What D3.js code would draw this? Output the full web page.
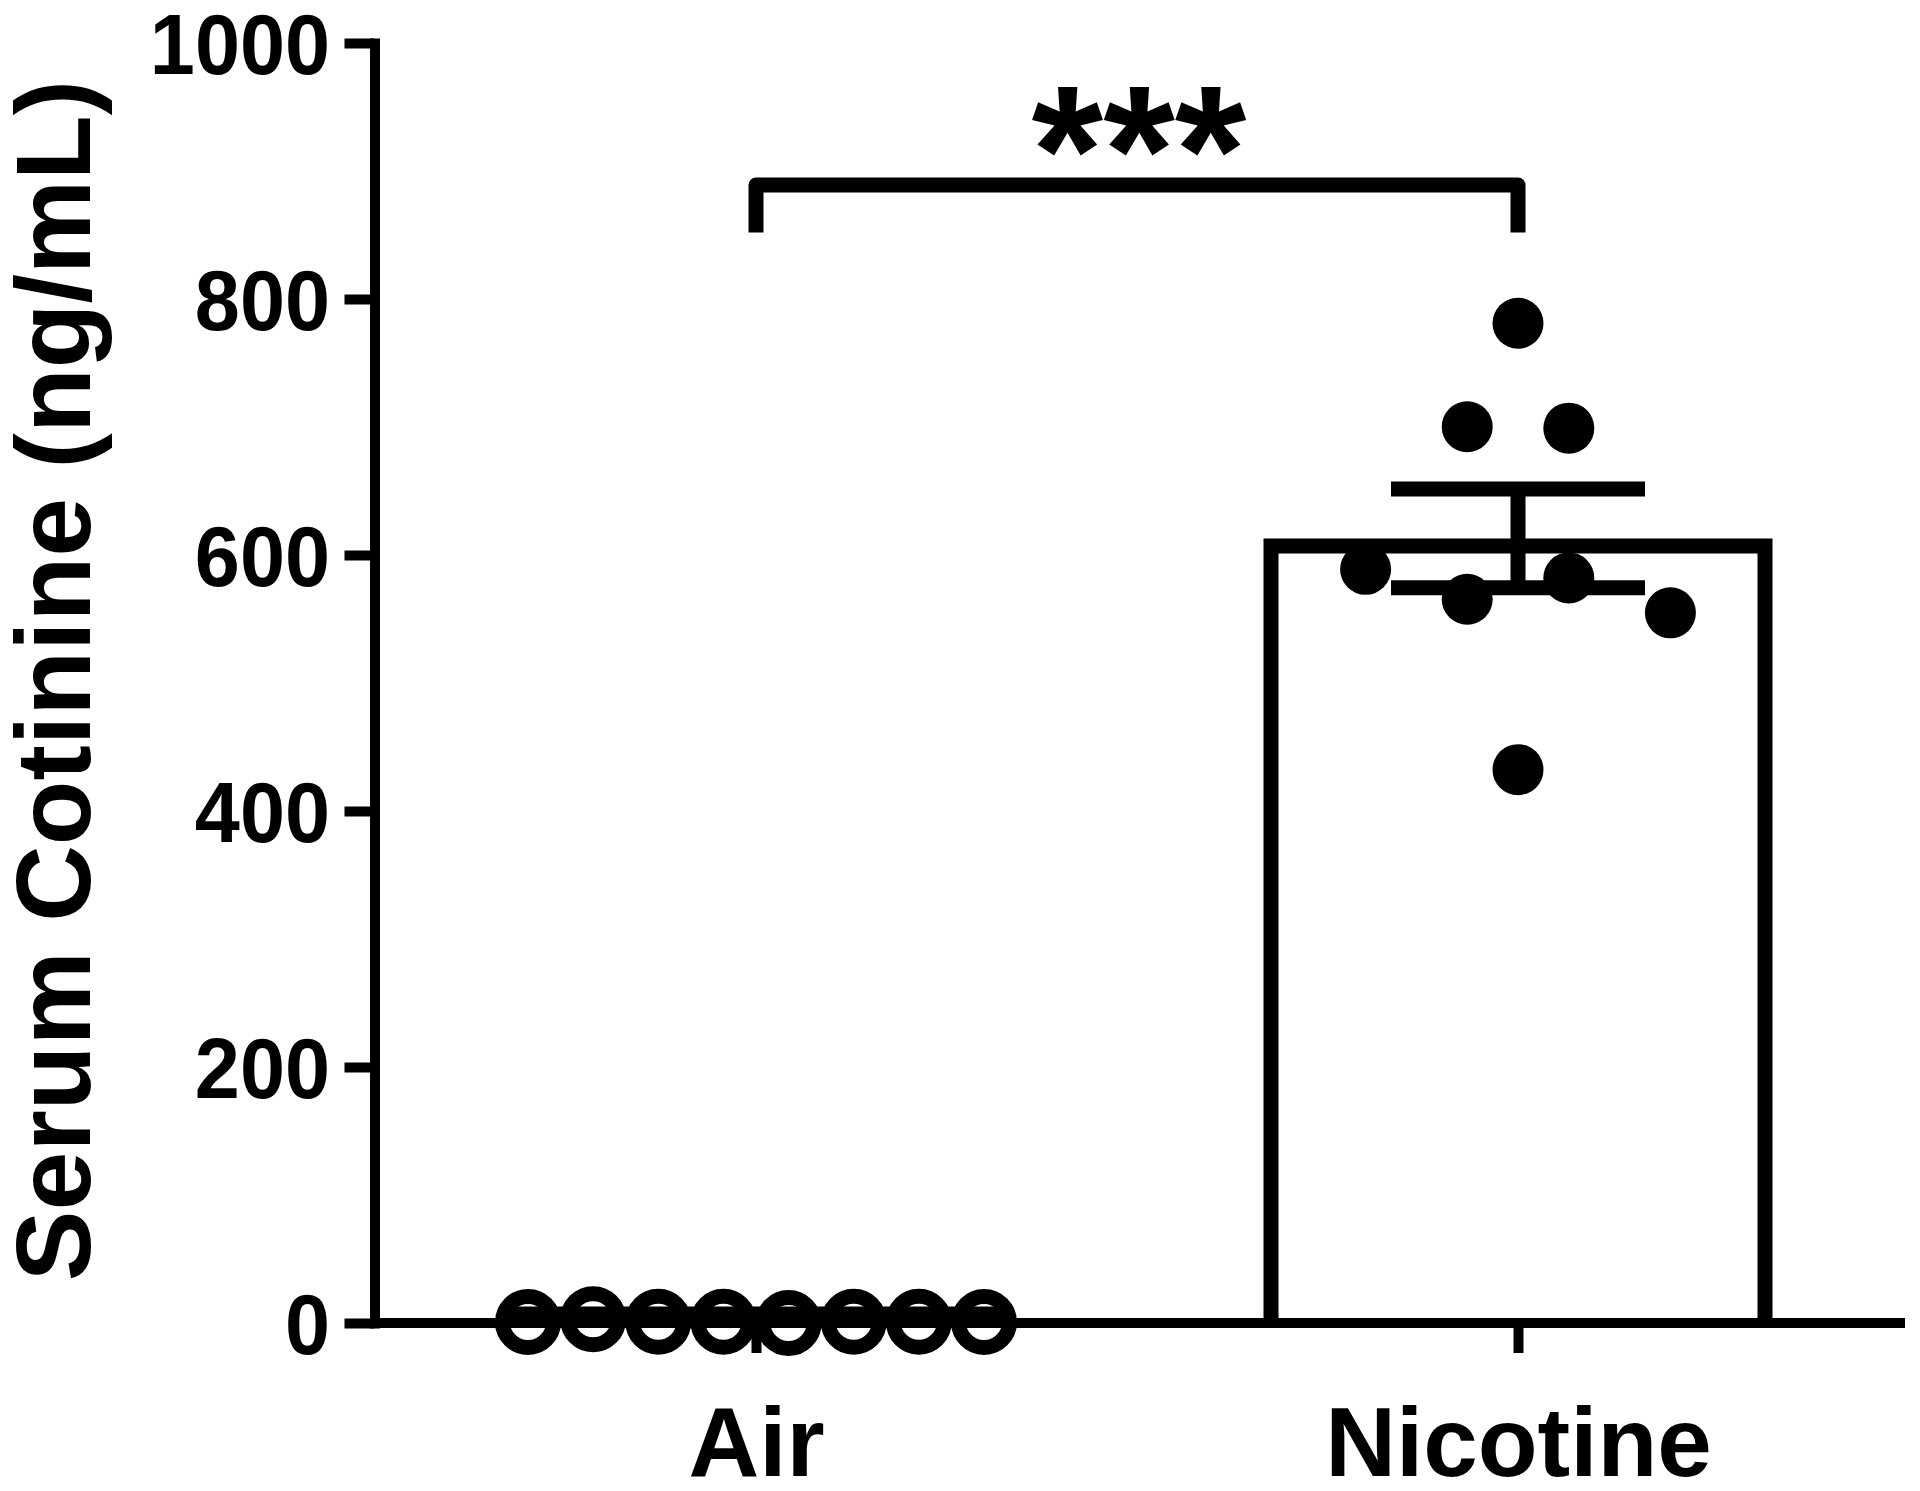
<!DOCTYPE html>
<html>
<head>
<meta charset="utf-8">
<script src="https://cdn.jsdelivr.net/npm/d3@7"></script>
<style>
  body { margin: 0; background: #ffffff; }
  svg { display: block; }
  text { font-family: "Liberation Sans", Arial, sans-serif; font-weight: bold; fill: #000; }
</style>
</head>
<body>
<div id="chart"></div>
<script>
// data
const GROUPS = ["Air", "Nicotine"];
const AIR_VALUES = [0.8, 3.0, 1.0, 1.0, 0.0, 1.0, 1.0, 0.8];
const NICOTINE_VALUES = [781.1, 700.2, 699.1, 588.8, 565.4, 582.1, 554.8, 432.3];
const Y_TICKS = [0, 200, 400, 600, 800, 1000];
const Y_LABEL = "Serum Cotinine (ng/mL)";
const SIG_LABEL = "***";

// frame constants
const FRAME_WIDTH = 1920;
const FRAME_HEIGHT = 1491;
const STROKE = 15;
const AXIS_STROKE = 10;
const BAR_WIDTH = 509;
const CAP_WIDTH = 254;
const DOT_R = 25.5;
const SPREAD = 456;     // widest spread of one row of dots
const MAX_STEP = 101.6; // widest gap between dots in one row
const ROW_GAP = 40;     // values closer than this share a row

const FRAME = d3.select("#chart")
                .append("svg")
                  .attr("width", FRAME_WIDTH)
                  .attr("height", FRAME_HEIGHT);

const X_SCALE = d3.scalePoint()
                  .domain(GROUPS)
                  .range([375, 1899])
                  .padding(0.5);

const Y_SCALE = d3.scaleLinear()
                  .domain([0, 1000])
                  .range([1323, 43]);

const data = [
  {group: "Air", values: AIR_VALUES, filled: false},
  {group: "Nicotine", values: NICOTINE_VALUES, filled: true}
];

data.forEach(d => {
  d.mean = d3.mean(d.values);
  d.sem = d3.deviation(d.values) / Math.sqrt(d.values.length);
});

// bars (outline only, border drawn inside the bar)
FRAME.selectAll(".bar")
  .data(data)
  .enter().append("path")
    .attr("class", "bar")
    .attr("fill", "none")
    .attr("stroke", "#000")
    .attr("stroke-width", STROKE)
    .attr("d", d => {
      let x0 = X_SCALE(d.group) - BAR_WIDTH / 2 + STROKE / 2;
      let x1 = X_SCALE(d.group) + BAR_WIDTH / 2 - STROKE / 2;
      let base = Y_SCALE(0);
      let top = Y_SCALE(d.mean);
      // very short bars get their border on top of the value
      let edge = (base - top > 2 * STROKE) ? top + STROKE / 2 : top - STROKE / 2;
      return "M" + x0 + "," + base + "V" + edge + "H" + x1 + "V" + base;
    });

// y axis
const Y_AXIS = FRAME.append("g")
  .attr("transform", "translate(374.5,0)")
  .call(d3.axisLeft(Y_SCALE)
          .tickValues(Y_TICKS)
          .tickFormat(d3.format("d"))
          .tickSize(30)
          .tickSizeOuter(0)
          .tickPadding(14.5));

Y_AXIS.select(".domain")
  .attr("stroke-width", AXIS_STROKE)
  .attr("stroke-linecap", "square");
Y_AXIS.selectAll(".tick line").attr("stroke-width", AXIS_STROKE);
Y_AXIS.selectAll(".tick text")
  .attr("font-size", 81)
  .attr("dy", "0.36em")
  .attr("transform", "scale(1,1.06)")
  .style("font-family", "'Liberation Sans', Arial, sans-serif")
  .style("font-weight", "bold");

// x axis
const X_AXIS = FRAME.append("g")
  .attr("transform", "translate(0," + Y_SCALE(0) + ")")
  .call(d3.axisBottom(X_SCALE).tickSize(30).tickSizeOuter(0));

X_AXIS.select(".domain")
  .attr("d", "M374.5,0H1905")
  .attr("stroke-width", AXIS_STROKE);
X_AXIS.selectAll(".tick line").attr("stroke-width", AXIS_STROKE);
X_AXIS.selectAll(".tick text")
  .attr("font-size", 98)
  .attr("y", 153)
  .attr("dy", 0)
  .style("font-family", "'Liberation Sans', Arial, sans-serif")
  .style("font-weight", "bold");

// scatter layout: values close together share a row and spread sideways
function spreadDots(d) {
  let order = d3.range(d.values.length).sort((a, b) => d.values[a] - d.values[b]);
  let rows = [];
  let row = [order[0]];
  for (let i = 1; i < order.length; i++) {
    if (d.values[order[i]] - d.values[order[i - 1]] < ROW_GAP) {
      row.push(order[i]);
    } else {
      rows.push(row);
      row = [order[i]];
    }
  }
  rows.push(row);

  let dots = [];
  rows.forEach(r => {
    r.sort((a, b) => a - b);
    let n = r.length;
    let step = n > 1 ? Math.min(MAX_STEP, SPREAD / (n - 1)) : 0;
    r.forEach((idx, k) => {
      dots.push({
        x: X_SCALE(d.group) + (k - (n - 1) / 2) * step,
        value: d.values[idx],
        filled: d.filled
      });
    });
  });
  return dots;
}

const DOTS = data.flatMap(spreadDots);

FRAME.selectAll(".dot")
  .data(DOTS)
  .enter().append("circle")
    .attr("class", "dot")
    .attr("cx", d => d.x)
    .attr("cy", d => Y_SCALE(d.value))
    .attr("r", DOT_R)
    .attr("fill", d => d.filled ? "#000" : "none")
    .attr("stroke", d => d.filled ? "none" : "#000")
    .attr("stroke-width", STROKE);

// error bars (mean +/- SEM)
const ERR = FRAME.selectAll(".err")
  .data(data.filter(d => d.sem * 1.28 > 2))
  .enter().append("g")
    .attr("class", "err")
    .attr("stroke", "#000")
    .attr("stroke-width", STROKE);

ERR.append("line")
  .attr("x1", d => X_SCALE(d.group))
  .attr("x2", d => X_SCALE(d.group))
  .attr("y1", d => Y_SCALE(d.mean - d.sem))
  .attr("y2", d => Y_SCALE(d.mean + d.sem));

[-1, 1].forEach(sign => {
  ERR.append("line")
    .attr("x1", d => X_SCALE(d.group) - CAP_WIDTH / 2)
    .attr("x2", d => X_SCALE(d.group) + CAP_WIDTH / 2)
    .attr("y1", d => Y_SCALE(d.mean + sign * d.sem))
    .attr("y2", d => Y_SCALE(d.mean + sign * d.sem));
});

// significance bracket
const BRACKET_TOP = 889;
const BRACKET_FOOT = 852;
const bx0 = X_SCALE(GROUPS[0]);
const bx1 = X_SCALE(GROUPS[1]);

FRAME.append("path")
  .attr("fill", "none")
  .attr("stroke", "#000")
  .attr("stroke-width", STROKE)
  .attr("stroke-linejoin", "round")
  .attr("d", "M" + bx0 + "," + Y_SCALE(BRACKET_FOOT) + "V" + Y_SCALE(BRACKET_TOP) +
             "H" + bx1 + "V" + Y_SCALE(BRACKET_FOOT));

FRAME.append("text")
  .attr("x", (bx0 + bx1) / 2 + 2)
  .attr("y", 214)
  .attr("text-anchor", "middle")
  .attr("font-size", 184)
  .text(SIG_LABEL);

// y axis title
FRAME.append("text")
  .attr("transform", "translate(90,680.5) rotate(-90)")
  .attr("text-anchor", "middle")
  .attr("font-size", 106)
  .text(Y_LABEL);
</script>
</body>
</html>
